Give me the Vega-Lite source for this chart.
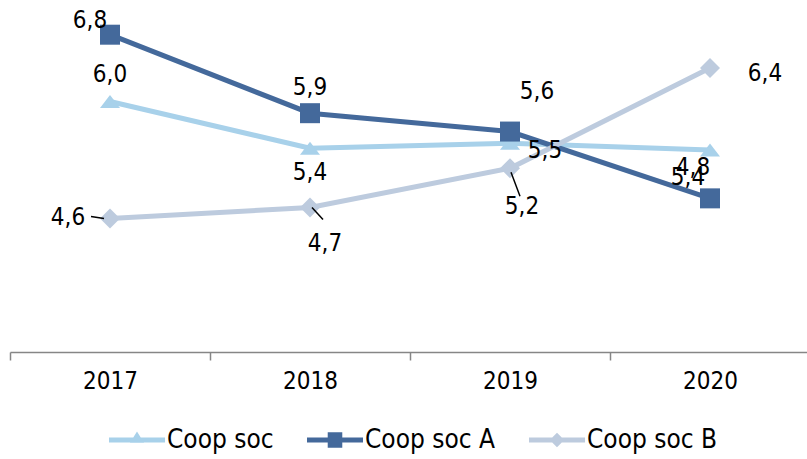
{
  "$schema": "https://vega.github.io/schema/vega-lite/v6.json",
  "autosize": "none",
  "width": 797,
  "height": 334,
  "padding": {"left": 10, "top": 18, "right": 0, "bottom": 107},
  "config": {
    "view": {"stroke": null},
    "locale": {"number": {"decimal": ",", "thousands": ".", "grouping": [3], "currency": ["", " €"]}},
    "font": "DejaVu Sans Condensed",
    "text": {"font": "DejaVu Sans Condensed", "fontSize": 24, "color": "#000000"}
  },
  "resolve": {"legend": {"color": "independent", "shape": "independent"}},
  "data": {"values": [
    {"s": "Coop soc", "year": "2017", "v": 6.0},
    {"s": "Coop soc", "year": "2018", "v": 5.44},
    {"s": "Coop soc", "year": "2019", "v": 5.5},
    {"s": "Coop soc", "year": "2020", "v": 5.42},
    {"s": "Coop soc A", "year": "2017", "v": 6.8},
    {"s": "Coop soc A", "year": "2018", "v": 5.86},
    {"s": "Coop soc A", "year": "2019", "v": 5.64},
    {"s": "Coop soc A", "year": "2020", "v": 4.84},
    {"s": "Coop soc B", "year": "2017", "v": 4.6},
    {"s": "Coop soc B", "year": "2018", "v": 4.73},
    {"s": "Coop soc B", "year": "2019", "v": 5.2},
    {"s": "Coop soc B", "year": "2020", "v": 6.4}
  ]},
  "encoding": {
    "x": {"field": "year", "type": "ordinal", "title": null,
      "scale": {"type": "band", "range": [0, 800], "paddingInner": 0, "paddingOuter": 0},
      "axis": {"labelAngle": 0, "grid": false, "domainColor": "#868686", "domainWidth": 1.5, "tickColor": "#868686", "tickWidth": 1.5, "tickSize": 8, "tickBand": "extent", "labelFontSize": 24, "labelFont": "DejaVu Sans Condensed", "labelColor": "#000000", "labelPadding": 9}},
    "y": {"field": "v", "type": "quantitative", "scale": {"domain": [3, 7]}, "axis": null}
  },
  "layer": [
    {"mark": {"type": "line", "strokeWidth": 5},
     "encoding": {"color": {"field": "s", "type": "nominal", "legend": null,
       "scale": {"domain": ["Coop soc", "Coop soc A", "Coop soc B"], "range": ["#A8D1EA", "#44699B", "#BDCBDE"]}}}},
    {"transform": [{"filter": "datum.s == 'Coop soc'"}],
     "mark": {"type": "point", "filled": true, "opacity": 1, "shape": "M0,-0.65L1,0.65L-1,0.65Z", "size": 400},
     "encoding": {"color": {"field": "s", "type": "nominal", "legend": null}}},
    {"transform": [{"filter": "datum.s == 'Coop soc A'"}],
     "mark": {"type": "point", "filled": true, "opacity": 1, "shape": "square", "size": 400},
     "encoding": {"color": {"field": "s", "type": "nominal", "legend": null}}},
    {"transform": [{"filter": "datum.s == 'Coop soc B'"}],
     "mark": {"type": "point", "filled": true, "opacity": 1, "shape": "diamond", "size": 400},
     "encoding": {"color": {"field": "s", "type": "nominal", "legend": null}}},
    {"mark": {"type": "point", "filled": true, "opacity": 0},
     "encoding": {
       "color": {"field": "s", "type": "nominal",
         "legend": {"title": null, "orient": "none", "legendX": 99, "legendY": 394, "direction": "horizontal", "symbolSize": 3136, "symbolStrokeWidth": 0, "symbolOpacity": 1, "labelFontSize": 26, "labelFont": "DejaVu Sans Condensed", "labelColor": "#000000", "labelOffset": 2, "columnPadding": 33, "padding": 0}},
       "shape": {"field": "s", "type": "nominal",
         "scale": {"domain": ["Coop soc", "Coop soc A", "Coop soc B"],
           "range": ["M-1,-0.09H1V0.09H-1Z M0,-0.3L0.25,0.1H-0.25Z", "M-1,-0.09H1V0.09H-1Z M-0.26,-0.28H0.26V0.28H-0.26Z", "M-1,-0.09H1V0.09H-1Z M0,-0.26L0.26,0L0,0.26L-0.26,0Z"]},
         "legend": {"title": null, "orient": "none", "legendX": 99, "legendY": 394, "direction": "horizontal", "symbolSize": 3136, "symbolStrokeWidth": 0, "symbolOpacity": 1, "labelFontSize": 26, "labelFont": "DejaVu Sans Condensed", "labelColor": "#000000", "labelOffset": 2, "columnPadding": 33, "padding": 0}}
     }},
    {"transform": [{"filter": "datum.s == 'Coop soc B' && datum.year == '2017'"}],
     "mark": {"type": "rule", "color": "#000000", "strokeWidth": 1.5, "xOffset": -19, "yOffset": -2, "x2Offset": -6, "y2Offset": 0},
     "encoding": {"x": {"field": "year", "type": "ordinal", "bandPosition": 0.5}, "x2": {"field": "year", "bandPosition": 0.5}, "y2": {"field": "v"}}},
    {"transform": [{"filter": "datum.s == 'Coop soc B' && datum.year == '2018'"}],
     "mark": {"type": "rule", "color": "#000000", "strokeWidth": 1.5, "xOffset": 2, "yOffset": 0, "x2Offset": 13, "y2Offset": 12},
     "encoding": {"x": {"field": "year", "type": "ordinal", "bandPosition": 0.5}, "x2": {"field": "year", "bandPosition": 0.5}, "y2": {"field": "v"}}},
    {"transform": [{"filter": "datum.s == 'Coop soc B' && datum.year == '2019'"}],
     "mark": {"type": "rule", "color": "#000000", "strokeWidth": 1.5, "xOffset": 1, "yOffset": 4, "x2Offset": 10, "y2Offset": 28},
     "encoding": {"x": {"field": "year", "type": "ordinal", "bandPosition": 0.5}, "x2": {"field": "year", "bandPosition": 0.5}, "y2": {"field": "v"}}},
    {"transform": [{"filter": "datum.s == 'Coop soc A' && datum.year == '2017'"}],
     "mark": {"type": "text", "dx": -20, "dy": -14}, "encoding": {"text": {"field": "v", "format": ".1f"}}},
    {"transform": [{"filter": "datum.s == 'Coop soc A' && datum.year == '2018'"}],
     "mark": {"type": "text", "dx": 0, "dy": -25}, "encoding": {"text": {"field": "v", "format": ".1f"}}},
    {"transform": [{"filter": "datum.s == 'Coop soc A' && datum.year == '2019'"}],
     "mark": {"type": "text", "dx": 27, "dy": -40}, "encoding": {"text": {"field": "v", "format": ".1f"}}},
    {"transform": [{"filter": "datum.s == 'Coop soc A' && datum.year == '2020'"}],
     "mark": {"type": "text", "dx": -17, "dy": -30}, "encoding": {"text": {"field": "v", "format": ".1f"}}},
    {"transform": [{"filter": "datum.s == 'Coop soc' && datum.year == '2017'"}],
     "mark": {"type": "text", "dx": 0, "dy": -27}, "encoding": {"text": {"field": "v", "format": ".1f"}}},
    {"transform": [{"filter": "datum.s == 'Coop soc' && datum.year == '2018'"}],
     "mark": {"type": "text", "dx": 0, "dy": 25}, "encoding": {"text": {"field": "v", "format": ".1f"}}},
    {"transform": [{"filter": "datum.s == 'Coop soc' && datum.year == '2019'"}],
     "mark": {"type": "text", "dx": 35, "dy": 8}, "encoding": {"text": {"field": "v", "format": ".1f"}}},
    {"transform": [{"filter": "datum.s == 'Coop soc' && datum.year == '2020'"}],
     "mark": {"type": "text", "dx": -22, "dy": 28}, "encoding": {"text": {"field": "v", "format": ".1f"}}},
    {"transform": [{"filter": "datum.s == 'Coop soc B' && datum.year == '2017'"}],
     "mark": {"type": "text", "dx": -42, "dy": 0}, "encoding": {"text": {"field": "v", "format": ".1f"}}},
    {"transform": [{"filter": "datum.s == 'Coop soc B' && datum.year == '2018'"}],
     "mark": {"type": "text", "dx": 15, "dy": 36}, "encoding": {"text": {"field": "v", "format": ".1f"}}},
    {"transform": [{"filter": "datum.s == 'Coop soc B' && datum.year == '2019'"}],
     "mark": {"type": "text", "dx": 12, "dy": 39}, "encoding": {"text": {"field": "v", "format": ".1f"}}},
    {"transform": [{"filter": "datum.s == 'Coop soc B' && datum.year == '2020'"}],
     "mark": {"type": "text", "dx": 55, "dy": 6}, "encoding": {"text": {"field": "v", "format": ".1f"}}}
  ]
}
